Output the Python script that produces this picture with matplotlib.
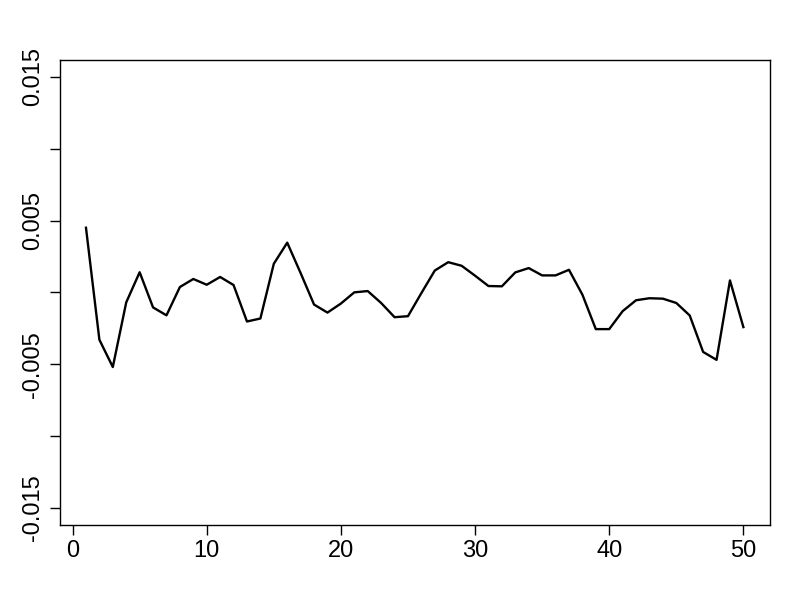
import numpy as np
import matplotlib.pyplot as plt

plt.rcParams['font.family'] = ['Liberation Sans', 'DejaVu Sans']

# values (in units of 1e-3)
idx = np.arange(1, 51)
vals = [4.5, -3.3, -5.2, -0.7, 1.4, -1.05, -1.6, 0.37, 0.93, 0.53,
        1.07, 0.51, -2.03, -1.82, 1.99, 3.46, 1.34, -0.85, -1.41, -0.78,
        0.0, 0.09, -0.74, -1.73, -1.66, -0.05, 1.52, 2.1, 1.85, 1.16,
        0.44, 0.42, 1.39, 1.69, 1.18, 1.18, 1.57, -0.16, -2.56, -2.56,
        -1.31, -0.55, -0.41, -0.44, -0.74, -1.61, -4.15, -4.7, 0.83, -2.42]
y = np.array(vals) * 1e-3

yticks = [-0.015, -0.01, -0.005, 0.0, 0.005, 0.01, 0.015]
ylabels = ['-0.015', '', '-0.005', '', '0.005', '', '0.015']
xticks = [0, 10, 20, 30, 40, 50]

fig = plt.figure(figsize=(8, 6), dpi=100)
ax = fig.add_axes([0.0746, 0.125, 0.8875, 0.7755])
ax.plot(idx, y, color='black', lw=1.7)

# R style 4% padding
ax.set_xlim(1 - 0.04 * 49, 50 + 0.04 * 49)
ax.set_ylim(-0.015 - 0.0012, 0.015 + 0.0012)

ax.set_yticks(yticks)
ax.set_yticklabels(ylabels, rotation=90, va='center')
ax.set_xticks(xticks)
ax.tick_params(direction='out', length=7, width=1, labelsize=17)
ax.tick_params(axis='y', pad=4)
ax.tick_params(axis='x', pad=4)
for s in ax.spines.values():
    s.set_linewidth(1)

fig.savefig('out.png', dpi=100)
